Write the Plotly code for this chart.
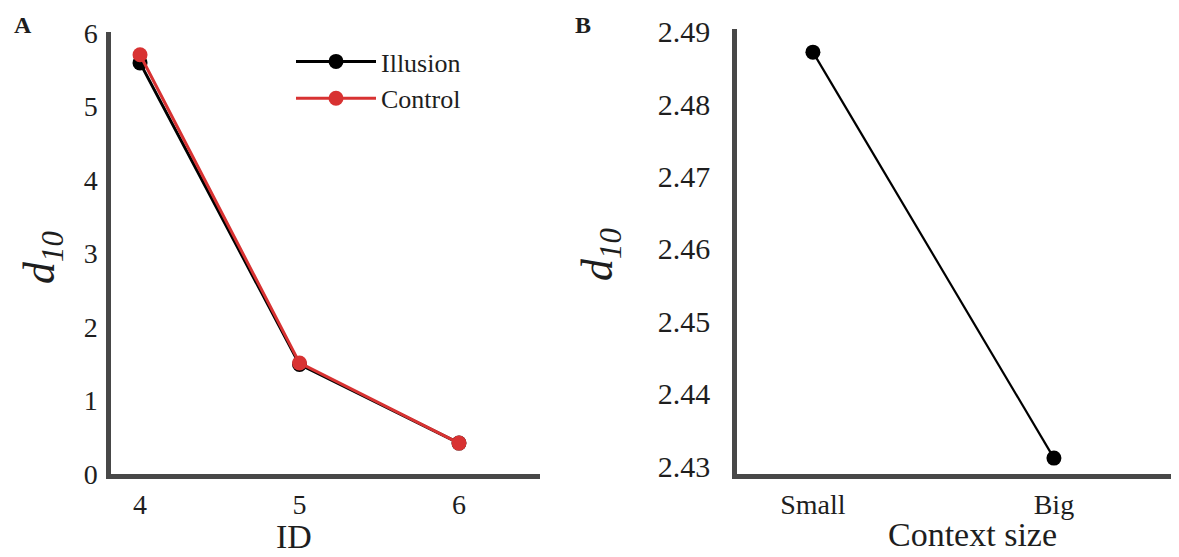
import plotly.graph_objects as go

# panel A
ids = [4, 5, 6]
illusion = [5.59, 1.49, 0.42]
control = [5.70, 1.51, 0.42]

# panel B
context = ["Small", "Big"]
context_d10 = [2.4872, 2.4311]

FONT = "Liberation Serif, Times New Roman, serif"
AXIS_COLOR = "#484848"
TEXT = "#1e1e1e"

# page body has an 8px margin; figure runs from there to the window edge
W, H = 1171, 549


def px(x, y):
    # window pixel -> paper coordinates
    return (x - 8) / W, 1 - (y - 8) / H


fig = go.Figure()
fig.add_trace(go.Scatter(x=ids, y=illusion, name="Illusion", mode="lines+markers",
                         line=dict(color="black", width=3), marker=dict(color="black", size=15)))
fig.add_trace(go.Scatter(x=ids, y=control, name="Control", mode="lines+markers",
                         line=dict(color="#d83232", width=3), marker=dict(color="#d83232", size=15)))
fig.add_trace(go.Scatter(x=context, y=context_d10, mode="lines+markers", showlegend=False,
                         line=dict(color="black", width=2.2), marker=dict(color="black", size=15),
                         xaxis="x2", yaxis="y2"))

ax = dict(showline=True, linecolor=AXIS_COLOR, linewidth=4.5, showgrid=False, automargin=False,
          zeroline=False, ticks="", tickfont=dict(family=FONT, size=28, color=TEXT))
xa0, ya0 = px(111, 474)
xa1, ya1 = px(540, 32)
xb0, yb0 = px(737, 474)
_, yb1 = px(737, 29)

fig.update_layout(
    width=W, height=H,
    margin=dict(l=0, r=0, t=0, b=0, autoexpand=False),
    paper_bgcolor="white", plot_bgcolor="white", font=dict(family=FONT, color=TEXT),
    xaxis=dict(ax, domain=[xa0, xa1], range=[3.818, 6.508], tickvals=ids,
               ticklabelstandoff=2, anchor="y"),
    yaxis=dict(ax, domain=[ya0, ya1], range=[0, 6.01], dtick=1,
               ticklabelstandoff=3, anchor="x"),
    xaxis2=dict(ax, domain=[xb0, 1.0], range=[-0.315, 1.519],
                ticklabelstandoff=2, anchor="y2"),
    yaxis2=dict(ax, domain=[yb0, yb1], range=[2.4289, 2.4904], dtick=0.01,
                tickformat=".2f", ticklabelstandoff=16, anchor="x2",
                tickfont=dict(family=FONT, size=30, color=TEXT)),
    legend=dict(x=px(291, 0)[0], y=px(0, 38)[1], xanchor="left", yanchor="top",
                font=dict(family=FONT, size=26, color=TEXT), itemwidth=80,
                bgcolor="rgba(0,0,0,0)"),
)

labels = [
    ("<b>A</b>", 23, 25, 24, 0),
    ("<b>B</b>", 583, 25, 24, 0),
    ("<i>d</i><sub><i>10</i></sub>", 42, 258, 44, -90),
    ("<i>d</i><sub><i>10</i></sub>", 600, 255, 44, -90),
    ("ID", 294, 536, 34, 0),
    ("Context size", 972, 534, 34, 0),
]
for text, x, y, size, angle in labels:
    ax_, ay_ = px(x, y)
    fig.add_annotation(text=text, x=ax_, y=ay_, xref="paper", yref="paper",
                       xanchor="center", yanchor="middle", showarrow=False,
                       textangle=angle, font=dict(family=FONT, size=size, color=TEXT))

fig.write_html("out.html")
